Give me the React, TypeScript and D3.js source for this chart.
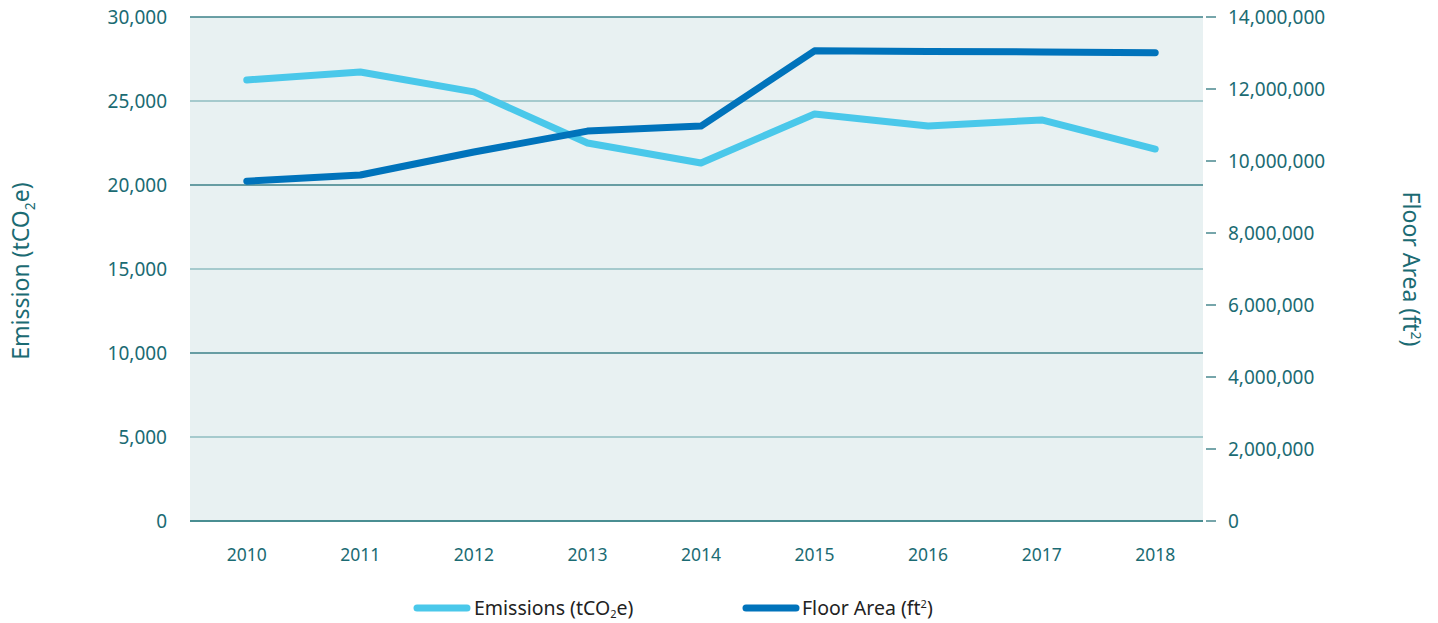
import React from 'react';
import * as d3 from 'd3';

const years = ['2010', '2011', '2012', '2013', '2014', '2015', '2016', '2017', '2018'];
const emissions = [26250, 26730, 25540, 22500, 21310, 24230, 23510, 23870, 22140];
const floorArea = [9440000, 9610000, 10250000, 10830000, 10970000, 13060000, 13040000, 13030000, 13010000];
const leftTicks = [0, 5000, 10000, 15000, 20000, 25000, 30000];
const rightTicks = [0, 2000000, 4000000, 6000000, 8000000, 10000000, 12000000, 14000000];

const TEXT = '#1b6b73';
const EMIS = '#4ac8ea';
const FLOOR = '#0073bb';
const FONT = '"Noto Sans", sans-serif';

export default function App() {
  const width = 1438;
  const height = 623;
  const left = 190;
  const plotRight = 1203;
  const top = 17;
  const bottom = 521;

  const x = d3.scalePoint<string>().domain(years).range([left, 1212]).padding(0.5);
  const yL = d3.scaleLinear().domain([0, 30000]).range([bottom, top]);
  const yR = d3.scaleLinear().domain([0, 14000000]).range([bottom, top]);
  const fmt = d3.format(',');

  const emisLine = d3.line<number>().x((_, i) => x(years[i])!).y((d) => yL(d))(emissions)!;
  const floorLine = d3.line<number>().x((_, i) => x(years[i])!).y((d) => yR(d))(floorArea)!;

  return (
    <svg width={width} height={height} style={{ position: 'absolute', left: 0, top: 0 }} fontFamily={FONT}>
      <rect x={left} y={top} width={plotRight - left} height={bottom - top} fill="#e8f1f2" />
      {leftTicks.map((t, i) => (
        <g key={t}>
          <line x1={left} x2={plotRight} y1={yL(t)} y2={yL(t)}
            stroke={i === 0 ? '#4a8e92' : i % 2 === 0 ? '#3d8088' : '#8fbcc0'} strokeWidth={i === 0 ? 2 : 1.5} />
          <text x={167} y={yL(t)} dy="0.35em" textAnchor="end" fontSize={19} fill={TEXT}>{fmt(t)}</text>
        </g>
      ))}
      {rightTicks.map((t) => (
        <g key={t}>
          <line x1={1206} x2={1216} y1={yR(t)} y2={yR(t)} stroke={TEXT} strokeWidth={1.2} />
          <text x={1228} y={yR(t)} dy="0.35em" fontSize={19} fill={TEXT}>{fmt(t)}</text>
        </g>
      ))}
      {years.map((yr) => (
        <text key={yr} x={x(yr)} y={561} textAnchor="middle" fontSize={17.5} fill={TEXT}>{yr}</text>
      ))}
      <text transform="translate(29,271) rotate(-90)" textAnchor="middle" fontSize={23} fill={TEXT}>
        Emission (tCO<tspan dy="6" fontSize={14}>2</tspan><tspan dy="-6">e)</tspan>
      </text>
      <text transform="translate(1403,269) rotate(90)" textAnchor="middle" fontSize={23} fill={TEXT}>
        Floor Area (ft<tspan dy="-8" fontSize={14}>2</tspan><tspan dy="8">)</tspan>
      </text>
      <path d={emisLine} fill="none" stroke={EMIS} strokeWidth={7} strokeLinecap="round" strokeLinejoin="round" />
      <path d={floorLine} fill="none" stroke={FLOOR} strokeWidth={7} strokeLinecap="round" strokeLinejoin="round" />
      <g fontSize={19.5} fill="#222">
        <line x1={417} x2={467} y1={608} y2={608} stroke={EMIS} strokeWidth={7} strokeLinecap="round" />
        <text x={474} y={608} dy="0.35em" fill="#222">
          Emissions (tCO<tspan dy="3" fontSize={11}>2</tspan><tspan dy="-3">e)</tspan>
        </text>
        <line x1={746} x2={796} y1={608} y2={608} stroke={FLOOR} strokeWidth={7} strokeLinecap="round" />
        <text x={802} y={608} dy="0.35em" fill="#222">
          Floor Area (ft<tspan dy="-7" fontSize={11}>2</tspan><tspan dy="7">)</tspan>
        </text>
      </g>
    </svg>
  );
}
